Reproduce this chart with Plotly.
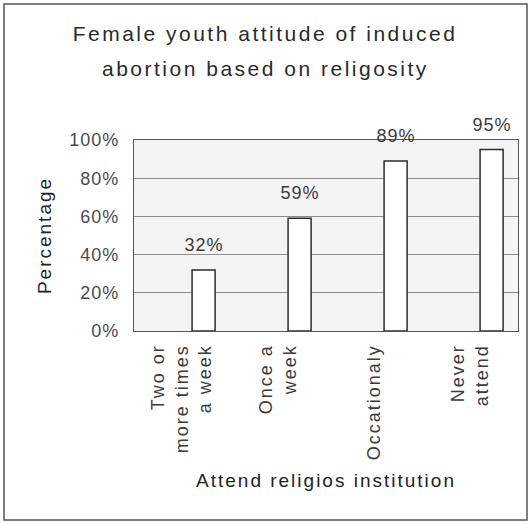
import plotly.graph_objects as go

# Attendance categories and share of respondents (percent)
categories = ["Two or more times a week", "Once a week", "Occationaly", "Never attend"]
tick_labels = ["Two or<br>more times<br>a week", "Once a<br>week", "Occationaly", "Never<br>attend"]
percentages = [32, 59, 89, 95]
y_ticks = [0, 20, 40, 60, 80, 100]
title_lines = ["Female youth attitude of induced", "abortion based on religosity"]

W, H = 530, 524
ML, MR, MT, MB = 134, 12, 140, 193
PW, PH = W - ML - MR, H - MT - MB

FONT = "Liberation Sans, Arial, sans-serif"
BAR_WIDTH = 0.24
BAR_OFFSET = 0.105


def px_x(px):
    return (px - ML) / PW


def px_y(py):
    return (H - MB - py) / PH


fig = go.Figure()
fig.add_bar(
    x=categories,
    y=percentages,
    width=BAR_WIDTH,
    offset=BAR_OFFSET,
    marker=dict(color="white", line=dict(color="#2b2b2b", width=1.5)),
    hoverinfo="skip",
)

# second line of the chart title (annotation index 0)
fig.add_annotation(
    xref="paper", yref="paper", x=px_x(W / 2), y=px_y(68),
    xanchor="center", yanchor="middle", showarrow=False,
    text=title_lines[1],
    font=dict(family=FONT, size=21, color="#2a2a2a"),
)

# value labels above each bar
shift_px = (BAR_OFFSET + BAR_WIDTH / 2) * PW / len(categories)
for cat, v in zip(categories, percentages):
    fig.add_annotation(
        x=cat, y=v, text=f"{v}%", showarrow=False,
        xshift=shift_px, yshift=25, yanchor="middle",
        font=dict(family=FONT, size=18, color="#3a3a3a"),
    )

# outer chart frame
fig.add_shape(
    type="rect", xref="paper", yref="paper",
    x0=px_x(4), x1=px_x(527), y0=px_y(520), y1=px_y(4),
    line=dict(color="#555555", width=1.5), fillcolor="rgba(0,0,0,0)", layer="below",
)

fig.update_layout(
    width=W, height=H,
    margin=dict(l=ML, r=MR, t=MT, b=MB),
    paper_bgcolor="white",
    plot_bgcolor="#f4f4f4",
    showlegend=False,
    font=dict(family=FONT, color="#333333"),
    title=dict(
        text=title_lines[0],
        font=dict(family=FONT, size=21, color="#2a2a2a"),
        x=0.5, xanchor="center", xref="container",
        y=1 - 34 / H, yanchor="middle", yref="container",
    ),
    xaxis=dict(
        type="category",
        range=[-0.5, len(categories) - 0.5],
        tickvals=categories,
        ticktext=tick_labels,
        tickangle=-90,
        ticks="",
        ticklabelstandoff=5,
        tickfont=dict(family=FONT, size=18, color="#3a3a3a"),
        showline=True, linecolor="#555555", linewidth=1.2, mirror=True,
        showgrid=False,
        title=dict(text="Attend religios institution", standoff=36,
                   font=dict(family=FONT, size=19, color="#222222")),
    ),
    yaxis=dict(
        range=[0, 100],
        tickvals=y_ticks,
        ticktext=[f"{t}%" for t in y_ticks],
        ticks="",
        ticklabelstandoff=10,
        tickfont=dict(family=FONT, size=18, color="#4a4a4a"),
        showline=True, linecolor="#555555", linewidth=1.2, mirror=True,
        showgrid=True, gridcolor="#8c8c8c", gridwidth=1,
        zeroline=False,
        title=dict(text="Percentage", standoff=16,
                   font=dict(family=FONT, size=19, color="#222222")),
    ),
)

spacing_css = (
    ".gtitle{letter-spacing:2.5px}"
    ".xtitle,.ytitle{letter-spacing:2px}"
    ".xtick text{letter-spacing:2px}"
    ".ytick text{letter-spacing:1px}"
    ".annotation-text{letter-spacing:1px}"
    ".annotation[data-index=\"0\"] .annotation-text{letter-spacing:2.5px}"
)
post = (
    "var s=document.createElement('style');"
    f"s.textContent='{spacing_css}';"
    "document.head.appendChild(s);"
)

fig.write_html("out.html", post_script=post)
